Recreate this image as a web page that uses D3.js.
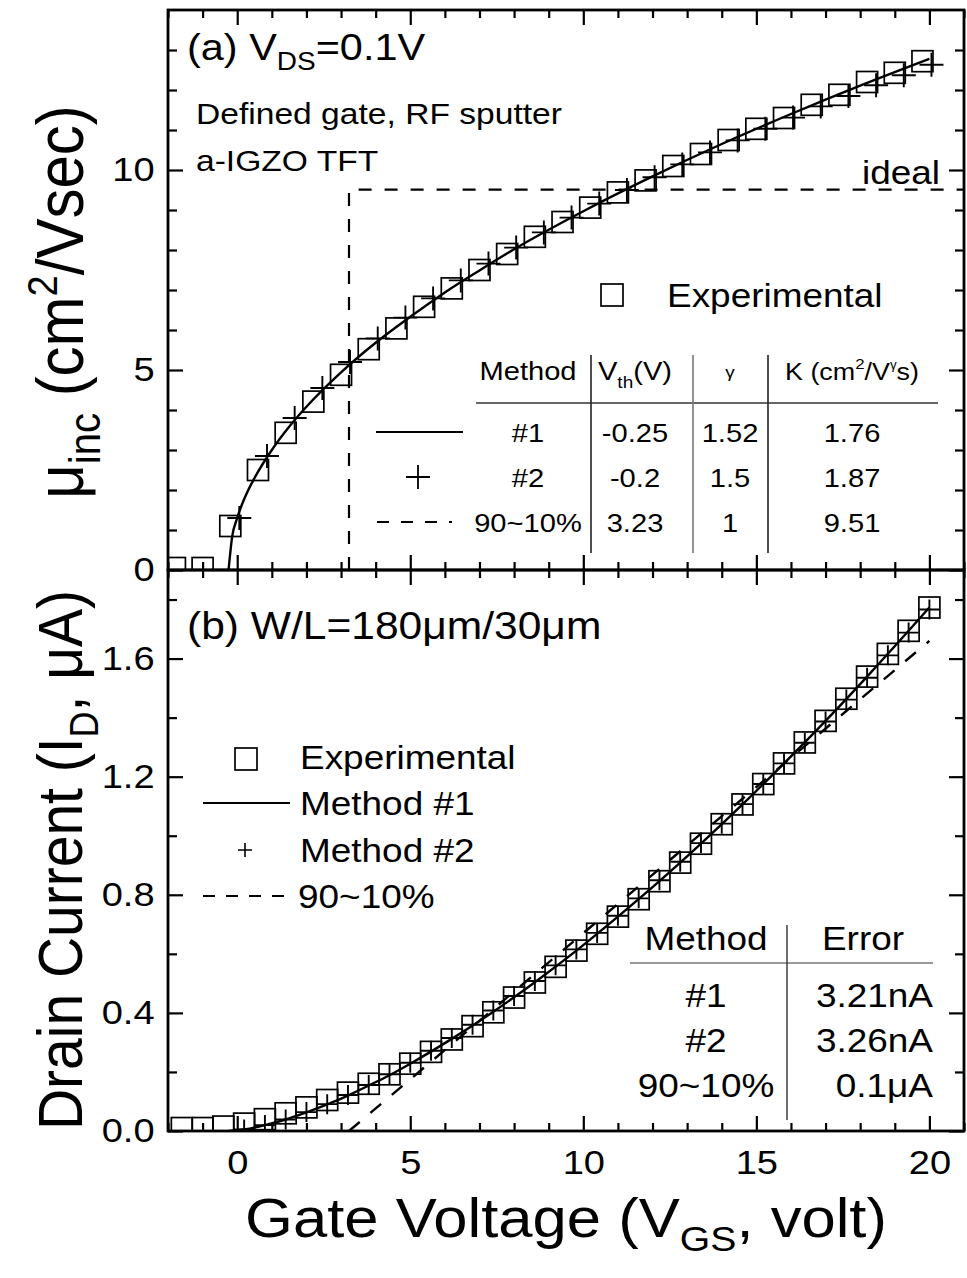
<!DOCTYPE html>
<html><head><meta charset="utf-8">
<script src="https://cdn.jsdelivr.net/npm/d3@7"></script>
<style>
body{margin:0;background:#fff}
svg{display:block}
text{font-family:"Liberation Sans",Arial,sans-serif;fill:#000}
</style>
</head><body>
<svg id="fig" width="967" height="1278"></svg>
<script>
// ---- (a) incremental mobility ----
const vgsMuExp = [-1.8,-1.0,-0.2,0.6,1.4,2.2,3.0,3.8,4.6,5.4,6.2,7.0,7.8,8.6,9.4,10.2,11.0,11.8,12.6,13.4,14.2,15.0,15.8,16.6,17.4,18.2,19.0,19.8];
const muExp    = [0.05,0.05,1.1,2.5,3.43,4.21,4.88,5.52,6.04,6.58,7.04,7.5,7.9,8.33,8.7,9.06,9.44,9.74,10.1,10.4,10.75,11.03,11.3,11.63,11.88,12.2,12.43,12.72];
const vgsMuM2  = [0.06,0.86,1.66,2.46,3.26,4.06,4.86,5.66,6.46,7.26,8.06,8.86,9.66,10.46,11.26,12.06,12.86,13.66,14.46,15.26,16.06,16.86,17.66,18.46,19.26,20.06];
const muM2     = [1.3,2.85,3.8,4.55,5.2,5.79,6.31,6.79,7.24,7.66,8.06,8.44,8.81,9.16,9.5,9.82,10.14,10.44,10.74,11.03,11.31,11.59,11.85,12.12,12.37,12.63];
const vgsMuM1  = [-0.25,-0.15,0,0.25,0.5,1,1.5,2,3,4,5,6,7,8,10,12,14,16,18,20];
const muM1     = [0,0.81,1.3,1.87,2.3,3.0,3.58,4.08,4.94,5.68,6.33,6.94,7.49,8.02,8.97,9.84,10.65,11.4,12.11,12.78];
const idealVth = 3.23;      // 90~10% threshold (V)
const idealMu  = 9.51;      // 90~10% mobility (cm2/Vs)

// ---- (b) drain current ----
const vgsIdExp = [-1.6,-1.0,-0.4,0.2,0.8,1.4,2.0,2.6,3.2,3.8,4.4,5.0,5.6,6.2,6.8,7.4,8.0,8.6,9.2,9.8,10.4,11.0,11.6,12.2,12.8,13.4,14.0,14.6,15.2,15.8,16.4,17.0,17.6,18.2,18.8,19.4,20.0];
const idExp    = [0.01,0.01,0.015,0.025,0.04,0.06,0.08,0.105,0.13,0.16,0.192,0.228,0.268,0.31,0.355,0.402,0.452,0.503,0.556,0.611,0.668,0.726,0.785,0.846,0.909,0.973,1.039,1.106,1.175,1.245,1.316,1.389,1.464,1.539,1.616,1.694,1.773];
const vgsIdM2  = [0.2,0.8,1.4,2.0,2.6,3.2,3.8,4.4,5.0,5.6,6.2,6.8,7.4,8.0,8.6,9.2,9.8,10.4,11.0,11.6,12.2,12.8,13.4,14.0,14.6,15.2,15.8,16.4,17.0,17.6,18.2,18.8,19.4,20.0];
const idM2     = [0.005,0.02,0.039,0.064,0.091,0.122,0.156,0.192,0.231,0.272,0.315,0.36,0.408,0.457,0.508,0.561,0.615,0.671,0.729,0.788,0.849,0.912,0.975,1.041,1.107,1.175,1.245,1.315,1.387,1.461,1.535,1.611,1.688,1.766];
const vgsIdM1  = [-0.25,0.2,0.8,1.4,2.0,2.6,3.2,3.8,4.4,5.0,6.2,7.4,8.6,9.8,11.0,12.2,13.4,14.6,15.8,17.0,18.2,19.4,20.0];
const idM1     = [0,0.005,0.02,0.039,0.063,0.09,0.12,0.154,0.189,0.228,0.312,0.404,0.504,0.611,0.726,0.846,0.973,1.106,1.245,1.389,1.539,1.694,1.773];
const vgsId90  = [3.23, 20];
const id90     = [0, 1.66];

// ---- axis ticks ----
const xMajor = [0,5,10,15,20];
const xMinor = d3.range(-2,22).filter(v => v % 5 !== 0);
const muMajor = [0,5,10];
const muMinor = d3.range(1,14).filter(v => v % 5 !== 0);
const idMajor = [0,0.4,0.8,1.2,1.6];
const idMinor = [0.2,0.6,1.0,1.4,1.8];

// ---- tables ----
const tableARows = [["#1","-0.25","1.52","1.76"],["#2","-0.2","1.5","1.87"],["90~10%","3.23","1","9.51"]];
const tableBRows = [["#1","3.21nA"],["#2","3.26nA"],["90~10%","0.1\u03bcA"]];

const svg = d3.select("#fig");
const L = 168, R = 964, T = 10, MID = 570, B = 1131;
const SX = 1.12;             // horizontal glyph widening used for all lettering
const x  = d3.scaleLinear([-2,21],[L,R]);
const ya = d3.scaleLinear([0,14],[MID,T]);
const yb = d3.scaleLinear([0,1.9],[B,MID]);

const defs = svg.append("defs");
defs.append("clipPath").attr("id","clipA").append("rect").attr("x",L).attr("y",T).attr("width",R-L).attr("height",MID-T);
defs.append("clipPath").attr("id","clipB").append("rect").attr("x",L).attr("y",MID).attr("width",R-L).attr("height",B-MID);

const FS_TICK = 34;

function axes(y, top, bottom, yMaj, yMin, yFmt, showX){
  const g = svg.append("g");
  const style = s => s.call(a => a.select(".domain").remove())
                      .call(a => a.selectAll("line").attr("stroke","#000").attr("stroke-width",2.2))
                      .call(a => a.selectAll("text").attr("font-size",FS_TICK)
                                  .attr("font-family","Liberation Sans, Arial, sans-serif")
                                  .attr("transform",`scale(${SX},1)`));
  g.append("g").attr("transform",`translate(0,${bottom})`)
    .call(d3.axisBottom(x).tickValues(xMajor).tickSizeInner(-15).tickSizeOuter(0).tickPadding(19)
      .tickFormat(showX ? d3.format("d") : "")).call(style);
  g.append("g").attr("transform",`translate(0,${bottom})`)
    .call(d3.axisBottom(x).tickValues(xMinor).tickSizeInner(-8).tickSizeOuter(0).tickFormat("")).call(style);
  g.append("g").attr("transform",`translate(0,${top})`)
    .call(d3.axisTop(x).tickValues(xMajor).tickSizeInner(-15).tickSizeOuter(0).tickFormat("")).call(style);
  g.append("g").attr("transform",`translate(0,${top})`)
    .call(d3.axisTop(x).tickValues(xMinor).tickSizeInner(-8).tickSizeOuter(0).tickFormat("")).call(style);
  g.append("g").attr("transform",`translate(${L},0)`)
    .call(d3.axisLeft(y).tickValues(yMaj).tickSizeInner(-15).tickSizeOuter(0).tickPadding(12).tickFormat(yFmt)).call(style);
  g.append("g").attr("transform",`translate(${L},0)`)
    .call(d3.axisLeft(y).tickValues(yMin).tickSizeInner(-9).tickSizeOuter(0).tickFormat("")).call(style);
  g.append("g").attr("transform",`translate(${R},0)`)
    .call(d3.axisRight(y).tickValues(yMaj).tickSizeInner(-15).tickSizeOuter(0).tickFormat("")).call(style);
  g.append("g").attr("transform",`translate(${R},0)`)
    .call(d3.axisRight(y).tickValues(yMin).tickSizeInner(-9).tickSizeOuter(0).tickFormat("")).call(style);
  g.append("rect").attr("x",L).attr("y",top).attr("width",R-L).attr("height",bottom-top)
    .attr("fill","none").attr("stroke","#000").attr("stroke-width",2.8);
}

function squares(g, xs, ys, y, s){
  g.selectAll(null).data(xs.map((v,i)=>[v,ys[i]])).join("rect")
    .attr("x",d=>x(d[0])-s/2).attr("y",d=>y(d[1])-s/2).attr("width",s).attr("height",s)
    .attr("fill","none").attr("stroke","#000").attr("stroke-width",1.7);
}
function pluses(g, xs, ys, y, h){
  g.selectAll(null).data(xs.map((v,i)=>[v,ys[i]])).join("path")
    .attr("d",d=>{const cx=x(d[0]),cy=y(d[1]);return `M${cx-h},${cy}H${cx+h}M${cx},${cy-h}V${cy+h}`;})
    .attr("stroke","#000").attr("stroke-width",1.9).attr("fill","none");
}

// ================= panel (a) =================
const ga = svg.append("g").attr("clip-path","url(#clipA)");
ga.append("path")
  .datum([[idealVth,0],[idealVth,idealMu],[21,idealMu]])
  .attr("d",d3.line().x(d=>x(d[0])).y(d=>ya(d[1])))
  .attr("fill","none").attr("stroke","#000").attr("stroke-width",2.2).attr("stroke-dasharray","13,13");
squares(ga, vgsMuExp, muExp, ya, 21);
ga.append("path")
  .datum(vgsMuM1.map((v,i)=>[v,muM1[i]]))
  .attr("d",d3.line().x(d=>x(d[0])).y(d=>ya(d[1])).curve(d3.curveMonotoneX))
  .attr("fill","none").attr("stroke","#000").attr("stroke-width",2.4);
pluses(ga, vgsMuM2, muM2, ya, 12);
axes(ya, T, MID, muMajor, muMinor, d3.format("d"), false);

// ================= panel (b) =================
const gb = svg.append("g").attr("clip-path","url(#clipB)");
gb.append("path")
  .datum(vgsId90.map((v,i)=>[v,id90[i]]))
  .attr("d",d3.line().x(d=>x(d[0])).y(d=>yb(d[1])))
  .attr("fill","none").attr("stroke","#000").attr("stroke-width",2.4).attr("stroke-dasharray","14,14");
squares(gb, vgsIdExp, idExp, yb, 21);
pluses(gb, vgsIdM2, idM2, yb, 10);
gb.append("path")
  .datum(vgsIdM1.map((v,i)=>[v,idM1[i]]))
  .attr("d",d3.line().x(d=>x(d[0])).y(d=>yb(d[1])).curve(d3.curveMonotoneX))
  .attr("fill","none").attr("stroke","#000").attr("stroke-width",2.4);
axes(yb, MID, B, idMajor, idMinor, d3.format(".1f"), true);

// ================= lettering =================
function txt(xp, yp, size, anchor, rot){
  const g = svg.append("g").attr("transform",`translate(${xp},${yp}) scale(${SX},1)` + (rot ? ` rotate(${rot})` : ""));
  return g.append("text").attr("font-size",size).attr("text-anchor",anchor||"start");
}
let t = txt(187, 60, 37);
t.append("tspan").text("(a) V");
t.append("tspan").attr("font-size",25).attr("dy",10).text("DS");
t.append("tspan").attr("dy",-10).text("=0.1V");
txt(196, 124, 30).text("Defined gate, RF sputter");
txt(196, 171, 30).text("a-IGZO TFT");
txt(940, 184, 33, "end").text("ideal");

// legend (a)
svg.append("rect").attr("x",601).attr("y",284).attr("width",22).attr("height",22)
  .attr("fill","none").attr("stroke","#000").attr("stroke-width",1.7);
txt(667, 307, 33).text("Experimental");

// table (a)
const colA = [528, 635, 730, 852];
txt(colA[0], 380, 26, "middle").text("Method");
t = txt(colA[1], 380, 26, "middle");
t.append("tspan").text("V");
t.append("tspan").attr("font-size",17).attr("dy",8).text("th");
t.append("tspan").attr("dy",-8).text("(V)");
txt(colA[2], 378, 17, "middle").text("\u03b3");
t = txt(colA[3], 380, 24, "middle");
t.append("tspan").text("K (cm");
t.append("tspan").attr("font-size",15).attr("dy",-11).text("2");
t.append("tspan").attr("dy",11).text("/V");
t.append("tspan").attr("font-size",12).attr("dy",-11).text("\u03b3");
t.append("tspan").attr("dy",11).text("s)");
svg.append("line").attr("x1",476).attr("x2",938).attr("y1",403).attr("y2",403).attr("stroke","#333").attr("stroke-width",1.6);
[[591,"#222"],[693,"#777"],[768,"#222"]].forEach(([xv,c])=>{
  svg.append("line").attr("x1",xv).attr("x2",xv).attr("y1",355).attr("y2",553).attr("stroke",c).attr("stroke-width",1.6);
});
const rowAY = [442, 487, 532];
tableARows.forEach((r,i)=>{
  r.forEach((s,j)=> txt(colA[j], rowAY[i], 26, "middle").text(s));
});
svg.append("line").attr("x1",376).attr("x2",463).attr("y1",432).attr("y2",432).attr("stroke","#000").attr("stroke-width",2.2);
svg.append("path").attr("d","M406,477H430M418,465V489").attr("stroke","#000").attr("stroke-width",1.8);
svg.append("line").attr("x1",377).attr("x2",452).attr("y1",522).attr("y2",522).attr("stroke","#000").attr("stroke-width",2.2).attr("stroke-dasharray","12,12");

// panel (b) header
txt(187, 639, 38).text("(b) W/L=180\u03bcm/30\u03bcm");

// legend (b)
svg.append("rect").attr("x",235).attr("y",748).attr("width",22).attr("height",22)
  .attr("fill","none").attr("stroke","#000").attr("stroke-width",1.7);
txt(300, 769, 33).text("Experimental");
svg.append("line").attr("x1",203).attr("x2",290).attr("y1",803).attr("y2",803).attr("stroke","#000").attr("stroke-width",2.2);
txt(300, 815, 33).text("Method #1");
svg.append("path").attr("d","M238,850H252M245,843V857").attr("stroke","#000").attr("stroke-width",1.6);
txt(300, 862, 33).text("Method #2");
svg.append("line").attr("x1",203).attr("x2",290).attr("y1",896).attr("y2",896).attr("stroke","#000").attr("stroke-width",2.2).attr("stroke-dasharray","12,11");
txt(298, 908, 33).text("90~10%");

// table (b)
txt(706, 950, 33, "middle").text("Method");
txt(863, 950, 33, "middle").text("Error");
svg.append("line").attr("x1",630).attr("x2",933).attr("y1",963).attr("y2",963).attr("stroke","#777").attr("stroke-width",1.6);
svg.append("line").attr("x1",787).attr("x2",787).attr("y1",925).attr("y2",1120).attr("stroke","#333").attr("stroke-width",1.4);
const rowBY = [1007, 1052, 1097];
tableBRows.forEach((r,i)=>{
  txt(706, rowBY[i], 33, "middle").text(r[0]);
  txt(933, rowBY[i], 33, "end").text(r[1]);
});

// axis titles
t = txt(83, 302, 60, "middle", -90);
t.append("tspan").text("\u03bc");
t.append("tspan").attr("font-size",40).attr("dy",15).text("inc");
t.append("tspan").attr("dy",-15).text(" (cm");
t.append("tspan").attr("font-size",38).attr("dy",-23).text("2");
t.append("tspan").attr("dy",23).text("/Vsec)");

t = txt(82, 860, 57, "middle", -90);
t.append("tspan").text("Drain Current (I");
t.append("tspan").attr("font-size",36).attr("dy",14).text("D");
t.append("tspan").attr("dy",-14).text(", \u03bcA)");

t = txt(566, 1237, 55, "middle");
t.append("tspan").text("Gate Voltage (V");
t.append("tspan").attr("font-size",35).attr("dy",14).text("GS");
t.append("tspan").attr("dy",-14).text(", volt)");
</script>
</body></html>
